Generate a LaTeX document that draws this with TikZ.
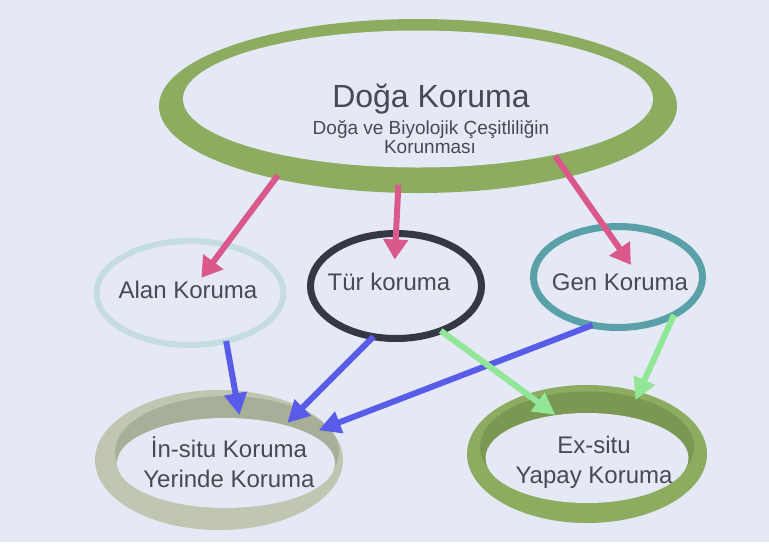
\documentclass[tikz,border=0pt]{standalone}
\usepackage{fontspec}
\setmainfont{Liberation Sans}
\usepackage{xcolor}
\usetikzlibrary{shapes.geometric, arrows.meta}

\definecolor{bgblue}{RGB}{228,233,245}
\definecolor{textgray}{RGB}{70,74,84}
\definecolor{ringgreen}{RGB}{140,172,96}
\definecolor{ringgreendark}{RGB}{122,152,82}
\definecolor{alanblue}{RGB}{198,220,228}
\definecolor{turdark}{RGB}{52,56,68}
\definecolor{genteal}{RGB}{90,160,168}
\definecolor{insitugray}{RGB}{192,198,178}
\definecolor{insitudark}{RGB}{168,175,152}
\definecolor{arrowpink}{RGB}{218,88,138}
\definecolor{arrowblue}{RGB}{88,92,232}
\definecolor{arrowgreen}{RGB}{146,230,152}

\begin{document}
\begin{tikzpicture}[
    x=1pt, y=-1pt,
    ring/.style={ellipse, draw, outer sep=0pt, inner sep=0pt},
    band/.style={ellipse, outer sep=0pt, inner sep=0pt},
    txt/.style={text=textgray, align=center, font=\fontsize{24}{30}\selectfont},
    pinkarrow/.style={-{Triangle[length=20pt,width=24pt]}, line width=6pt, draw=arrowpink},
    bluearrow/.style={-{Triangle[length=22pt,width=22pt]}, line width=6pt, draw=arrowblue},
    greenarrow/.style={-{Triangle[length=22pt,width=22pt]}, line width=6pt, draw=arrowgreen}
]
    % background
    \fill[bgblue] (0,0) rectangle (769,542);
    \useasboundingbox (0,0) rectangle (769,550);

    % Doga Koruma ring
    \node[band, fill=ringgreen, minimum width=518pt, minimum height=174pt] (doga) at (418,106) {};
    \node[band, fill=bgblue, minimum width=470pt, minimum height=137pt] (dogain) at (418,99) {};

    % middle row
    \node[ring, draw=alanblue, line width=6pt, minimum width=187pt, minimum height=104pt] (alan) at (190,293) {};
    \node[ring, draw=turdark, line width=7pt, minimum width=171pt, minimum height=105pt] (tur) at (396,286) {};
    \node[ring, draw=genteal, line width=7pt, minimum width=169pt, minimum height=101pt] (gen) at (618,277) {};

    % bottom row
    \node[band, fill=insitugray, minimum width=248pt, minimum height=140pt] (insitu) at (219,460) {};
    \node[band, fill=insitudark, minimum width=224pt, minimum height=112pt] (insituwall) at (227,452) {};
    \node[band, fill=bgblue, minimum width=218pt, minimum height=90pt] (insituin) at (226,463) {};

    \node[band, fill=ringgreen, minimum width=240pt, minimum height=138pt] (exsitu) at (587,454) {};
    \node[band, fill=ringgreendark, minimum width=214pt, minimum height=111pt] (exsituwall) at (587,447) {};
    \node[band, fill=bgblue, minimum width=203pt, minimum height=90pt] (exsituin) at (587,458) {};

    % texts
    \node[txt, anchor=base, font=\fontsize{32}{36}\selectfont] (dogatitle) at (431,107) {Doğa Koruma};
    \node[txt, anchor=base, font=\fontsize{19}{20}\selectfont] (dogasub) at (431,134) {Doğa ve Biyolojik Çeşitliliğin};
    \node[txt, anchor=base, font=\fontsize{19}{20}\selectfont] (dogasubb) at (430,153) {Korunması};
    \node[txt] (alantext) at (188,290) {Alan Koruma};
    \node[txt] (turtext) at (389,282) {Tür koruma};
    \node[txt] (gentext) at (620,282) {Gen Koruma};
    \node[txt] (insitutext) at (229,462) {İn-situ Koruma\\Yerinde Koruma};
    \node[txt] (exsitutext) at (594,462) {Ex-situ\\Yapay Koruma};

    % Arrows
    \draw[pinkarrow, shorten <=-4pt, shorten >=19pt] (doga.207) -- (alan.center);
    \draw[pinkarrow, shorten <=-8pt, shorten >=-26pt] (doga.257) -- (tur.north);
    \draw[pinkarrow, shorten <=-25pt, shorten >=-46pt] (doga.335) -- (gen.105);

    \draw[bluearrow, shorten >=-25pt] (alan.307) -- (insitu.77);
    \draw[bluearrow, shorten >=-21pt] (tur.246) -- (insitu.32);
    \draw[bluearrow, shorten >=-10pt] (gen.242) -- (insitu.17);

    \draw[greenarrow, shorten >=-35pt] (tur.315) -- (exsitu.135);
    \draw[greenarrow, shorten >=-9pt] (gen.326) -- (exsitu.50);
\end{tikzpicture}
\end{document}
